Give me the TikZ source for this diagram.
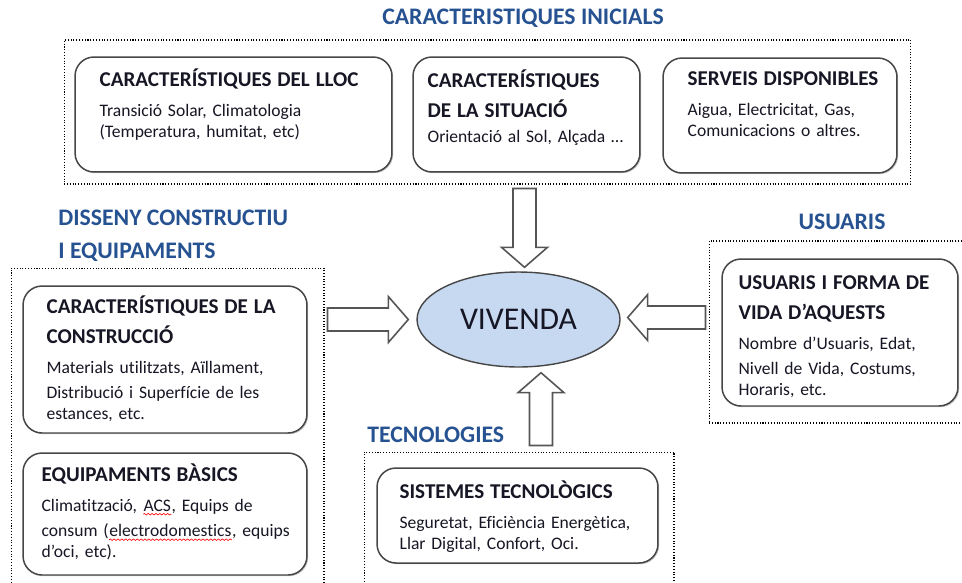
\documentclass[tikz,border=0pt]{standalone}
\usepackage{fontspec}
\setmainfont{Carlito}[Ligatures=NoCommon]
\usetikzlibrary{calc,shapes.geometric,shadows,decorations.pathmorphing}

\definecolor{headblue}{RGB}{38,82,145}
\definecolor{cardline}{RGB}{70,70,70}
\definecolor{arrowline}{RGB}{85,85,85}
\definecolor{vivfill}{RGB}{198,217,241}
\definecolor{inktext}{RGB}{22,22,36}

\newcommand{\cardtitle}{\bfseries\fontsize{12}{17}\selectfont\strut}
\newcommand{\cardbody}{\vspace{2.5pt}\mdseries\fontsize{10}{14.5}\selectfont}
\newcommand{\spellmark}[1]{\tikz[baseline=(sw.base)]{\node[inner sep=0pt] (sw) {#1};
    \draw[red, line width=0.35pt, decorate, decoration={snake, amplitude=0.45pt, segment length=2.2pt}]
    ([yshift=-1.6pt]sw.base west) -- ([yshift=-1.6pt]sw.base east);}}

\begin{document}
\begin{tikzpicture}[
    x=0.02cm, y=-0.02cm,
    heading/.style={text=headblue, font=\bfseries\fontsize{13.5}{18.7}\selectfont, inner sep=0pt},
    frame/.style={draw, densely dotted, line width=0.6pt, inner sep=0pt},
    card/.style={draw=cardline, line width=0.85pt, rounded corners=0.38cm, fill=white, inner sep=0pt,
        drop shadow={shadow xshift=0.7pt, shadow yshift=-0.7pt, fill=black!45, opacity=0.5}},
    cardtext/.style={anchor=north west, inner sep=0pt, align=left, text=inktext},
    blockarrow/.style={draw=arrowline, line width=0.9pt, fill=white, line join=miter, to path={
        ($(\tikztostart)!0.23cm!90:(\tikztotarget)$)
        -- ($($(\tikztotarget)!0.4cm!(\tikztostart)$)!0.23cm!90:(\tikztotarget)$)
        -- ($($(\tikztotarget)!0.4cm!(\tikztostart)$)!0.46cm!90:(\tikztotarget)$)
        -- (\tikztotarget)
        -- ($($(\tikztotarget)!0.4cm!(\tikztostart)$)!0.46cm!-90:(\tikztotarget)$)
        -- ($($(\tikztotarget)!0.4cm!(\tikztostart)$)!0.23cm!-90:(\tikztotarget)$)
        -- ($(\tikztostart)!0.23cm!-90:(\tikztotarget)$) -- cycle}},
    ]
\useasboundingbox (0,0) rectangle (962,582);
\clip (0,0) rectangle (962,582);

\node[heading] (iniH) at (523,18) {CARACTERISTIQUES INICIALS};
\node[heading, anchor=west, align=left] (disH) at (58,236) {DISSENY CONSTRUCTIU\\I EQUIPAMENTS};
\node[heading] (usuH) at (842,222) {USUARIS};
\node[heading, anchor=west] (tecH) at (367,435) {TECNOLOGIES};

\node[frame, minimum width=16.94cm, minimum height=2.88cm] (iniF) at (487.5,112) {};
\node[frame, minimum width=6.26cm, minimum height=6.68cm] (disF) at (167.5,435) {};
\node[frame, minimum width=5.32cm, minimum height=3.64cm] (usuF) at (842,332) {};
\node[frame, minimum width=6.2cm, minimum height=2.96cm] (tecF) at (519,526) {};

\node[card, minimum width=6.34cm, minimum height=2.3cm] (lloc) at (233.5,114.5) {};
\node[card, minimum width=4.54cm, minimum height=2.3cm] (sit) at (526.5,114.5) {};
\node[card, minimum width=4.68cm, minimum height=2.3cm] (serv) at (780,115.5) {};
\node[card, minimum width=5.68cm, minimum height=2.94cm] (cons) at (165,359.5) {};
\node[card, minimum width=5.68cm, minimum height=2.44cm] (equip) at (165,514) {};
\node[card, minimum width=4.72cm, minimum height=2.94cm] (usu) at (840,332.5) {};
\node[card, minimum width=5.62cm, minimum height=1.9cm] (sis) at (517.5,515.5) {};

\node[cardtext, text width=5.8cm] (llocT) at ([shift={(25,9)}]lloc.north west)
    {\cardtitle CARACTERÍSTIQUES DEL LLOC\par\cardbody Transició Solar, Climatologia\\(Temperatura, humitat, etc)};
\node[cardtext, text width=4.2cm] (sitT) at ([shift={(15,10)}]sit.north west)
    {\cardtitle CARACTERÍSTIQUES\\DE LA SITUACIÓ\par\cardbody Orientació al Sol, Alçada …};
\node[cardtext, text width=4.2cm] (servT) at ([shift={(25,7)}]serv.north west)
    {\cardtitle SERVEIS DISPONIBLES\par\cardbody Aigua, Electricitat, Gas,\\Comunicacions o altres.};
\node[cardtext, text width=5.2cm] (consT) at ([shift={(24,7)}]cons.north west)
    {\cardtitle CARACTERÍSTIQUES DE LA\\CONSTRUCCIÓ\par\cardbody Materials utilitzats, Aïllament,\\Distribució i Superfície de les\\estances, etc.};
\node[cardtext, text width=5.3cm] (equipT) at ([shift={(19,8)}]equip.north west)
    {\cardtitle EQUIPAMENTS BÀSICS\par\cardbody Climatització, \spellmark{ACS}, Equips de\\consum (\spellmark{electrodomestics}, equips\\d’oci, etc).};
\node[cardtext, text width=4.3cm] (usuT) at ([shift={(17,10)}]usu.north west)
    {\cardtitle USUARIS I FORMA DE\\VIDA D’AQUESTS\par\cardbody Nombre d’Usuaris, Edat,\\Nivell de Vida, Costums,\\Horaris, etc.};
\node[cardtext, text width=5.0cm] (sisT) at ([shift={(23,10)}]sis.north west)
    {\cardtitle SISTEMES TECNOLÒGICS\par\cardbody Seguretat, Eficiència Energètica,\\Llar Digital, Confort, Oci.};

\node[ellipse, draw=cardline, line width=0.8pt, fill=vivfill, minimum width=4.06cm, minimum height=1.9cm,
    inner sep=0pt, text=inktext, font=\fontsize{18}{20}\selectfont] (viv) at (518.5,319.5) {VIVENDA};

\coordinate (iniS) at ($(iniF.south -| viv.north)+(6,4)$);
\coordinate (iniE) at ($(viv.north)+(6,-4)$);
\coordinate (disS) at ($(disF.east |- viv.west)+(3,0)$);
\coordinate (disE) at ($(viv.west)+(-8,0)$);
\coordinate (usuS) at ($(usuF.west |- viv.east)+(-3,-2)$);
\coordinate (usuE) at ($(viv.east)+(7,-2)$);
\coordinate (tecS) at ($(tecF.north -| viv.south)+(22.5,-6)$);
\coordinate (tecE) at ($(viv.south)+(22.5,5)$);
\draw[blockarrow] (iniS) to (iniE);
\draw[blockarrow] (disS) to (disE);
\draw[blockarrow] (usuS) to (usuE);
\draw[blockarrow] (tecS) to (tecE);
\end{tikzpicture}
\end{document}
